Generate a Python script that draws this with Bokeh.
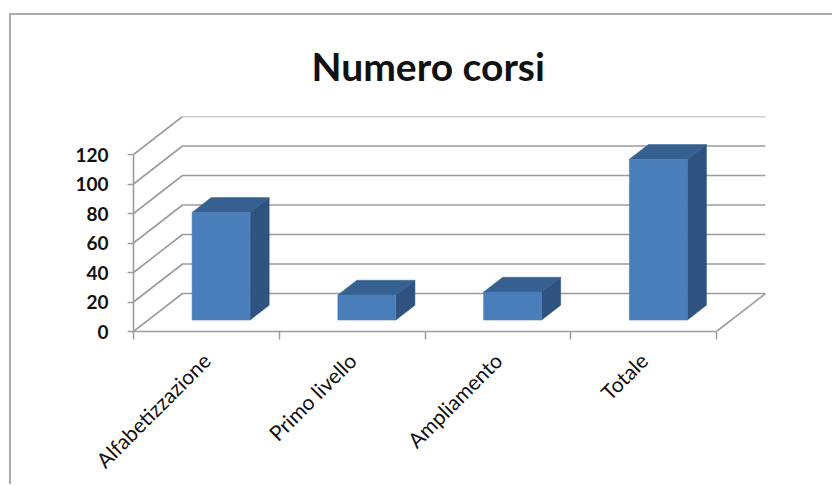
from bokeh.embed import file_html
from bokeh.resources import INLINE
from bokeh.plotting import figure
from bokeh.models import FixedTicker, Range1d, Title

categories = ["Alfabetizzazione", "Primo livello", "Ampliamento", "Totale"]
values = [73, 17, 19, 109]
y_ticks = [0, 20, 40, 60, 80, 100, 120]
chart_title = "Numero corsi"

# Oblique projection of the 3D box, in data units per unit of depth
DEPTH_X = 49 / 145.75
DEPTH_Y = 38 / 1.475
BAR_WIDTH = 0.398
BAR_DEPTH_FRONT = 0.30
BAR_DEPTH_BACK = 0.69
GRID = "#9c9c9c"
FRONT, TOP, SIDE = "#4a7ebb", "#35608f", "#2f5281"


def px(x, y, d):
    return x + d * DEPTH_X, y + d * DEPTH_Y


n = len(categories)
p = figure(
    width=823, height=471, output_backend="svg", toolbar_location=None,
    x_range=Range1d(0, n + DEPTH_X), y_range=Range1d(0, 120 + DEPTH_Y),
    min_border_left=122, min_border_right=69, min_border_top=101, min_border_bottom=155,
    background_fill_color="white", border_fill_color="white",
    outline_line_color=None, title=None,
)
p.margin = (13, 0, 0, 9)
p.styles = {"border-left": "2px solid #aaaaaa", "border-top": "2px solid #aaaaaa"}
p.grid.visible = False

# Back wall and left wall gridlines, floor edge
for v in y_ticks:
    x0, y0 = px(0, v, 0)
    x1, y1 = px(0, v, 1)
    x2, y2 = px(n, v, 1)
    p.line([x0, x1, x2], [y0, y1, y2], line_color=GRID, line_width=1.6)
xa, ya = px(n, 0, 0)
xb, yb = px(n, 0, 1)
p.line([xa, xb], [ya, yb], line_color=GRID, line_width=1.6)

# Bars: three faces each
for i, v in enumerate(values):
    x0 = i + (1 - BAR_WIDTH) / 2
    x1 = x0 + BAR_WIDTH
    fl, fb = px(x0, 0, BAR_DEPTH_FRONT)
    fr, ft = px(x1, v, BAR_DEPTH_FRONT)
    bl, bb = px(x0, 0, BAR_DEPTH_BACK)
    br, bt = px(x1, v, BAR_DEPTH_BACK)
    p.patch([fr, br, br, fr], [fb, bb, bt, ft], fill_color=SIDE, line_color=SIDE, line_width=0.5)
    p.patch([fl, bl, br, fr], [ft, bt, bt, ft], fill_color=TOP, line_color=TOP, line_width=0.5)
    p.patch([fl, fr, fr, fl], [fb, fb, ft, ft], fill_color=FRONT, line_color=FRONT, line_width=0.5)

# Axes
xa_ = p.xaxis[0]
centers = [i + 0.5 for i in range(n)]
xa_.ticker = FixedTicker(ticks=centers, minor_ticks=list(range(n + 1)))
xa_.major_label_overrides = {c: s for c, s in zip(centers, categories)}
xa_.major_label_orientation = 0.785398
xa_.major_tick_line_color = None
xa_.major_tick_out = 0
xa_.major_tick_in = 0
xa_.minor_tick_line_color = GRID
xa_.minor_tick_out = 8
xa_.minor_tick_in = 0
xa_.minor_tick_line_width = 1.5
xa_.axis_line_color = GRID
xa_.axis_line_width = 1.6
xa_.bounds = (0, n)
xa_.major_label_standoff = 17
xa_.major_label_text_font = "Lato"
xa_.major_label_text_font_size = "21px"
xa_.major_label_text_color = "#111111"

ya_ = p.yaxis[0]
ya_.ticker = FixedTicker(ticks=y_ticks, minor_ticks=[])
ya_.bounds = (0, 120)
ya_.axis_line_color = GRID
ya_.axis_line_width = 1.6
ya_.major_tick_line_color = GRID
ya_.major_tick_line_width = 1.5
ya_.major_tick_out = 6
ya_.major_tick_in = 0
ya_.minor_tick_line_color = None
ya_.major_label_standoff = 19
ya_.major_label_text_font = "Lato"
ya_.major_label_text_font_style = "bold"
ya_.major_label_text_font_size = "19px"
ya_.major_label_text_color = "#111111"

p.add_layout(Title(
    text=chart_title, align="left", offset=178, standoff=52, vertical_align="top",
    text_font="Lato", text_font_style="bold", text_font_size="39px", text_color="#111111",
), "above")

open("out.html", "w").write(file_html(p, INLINE))
